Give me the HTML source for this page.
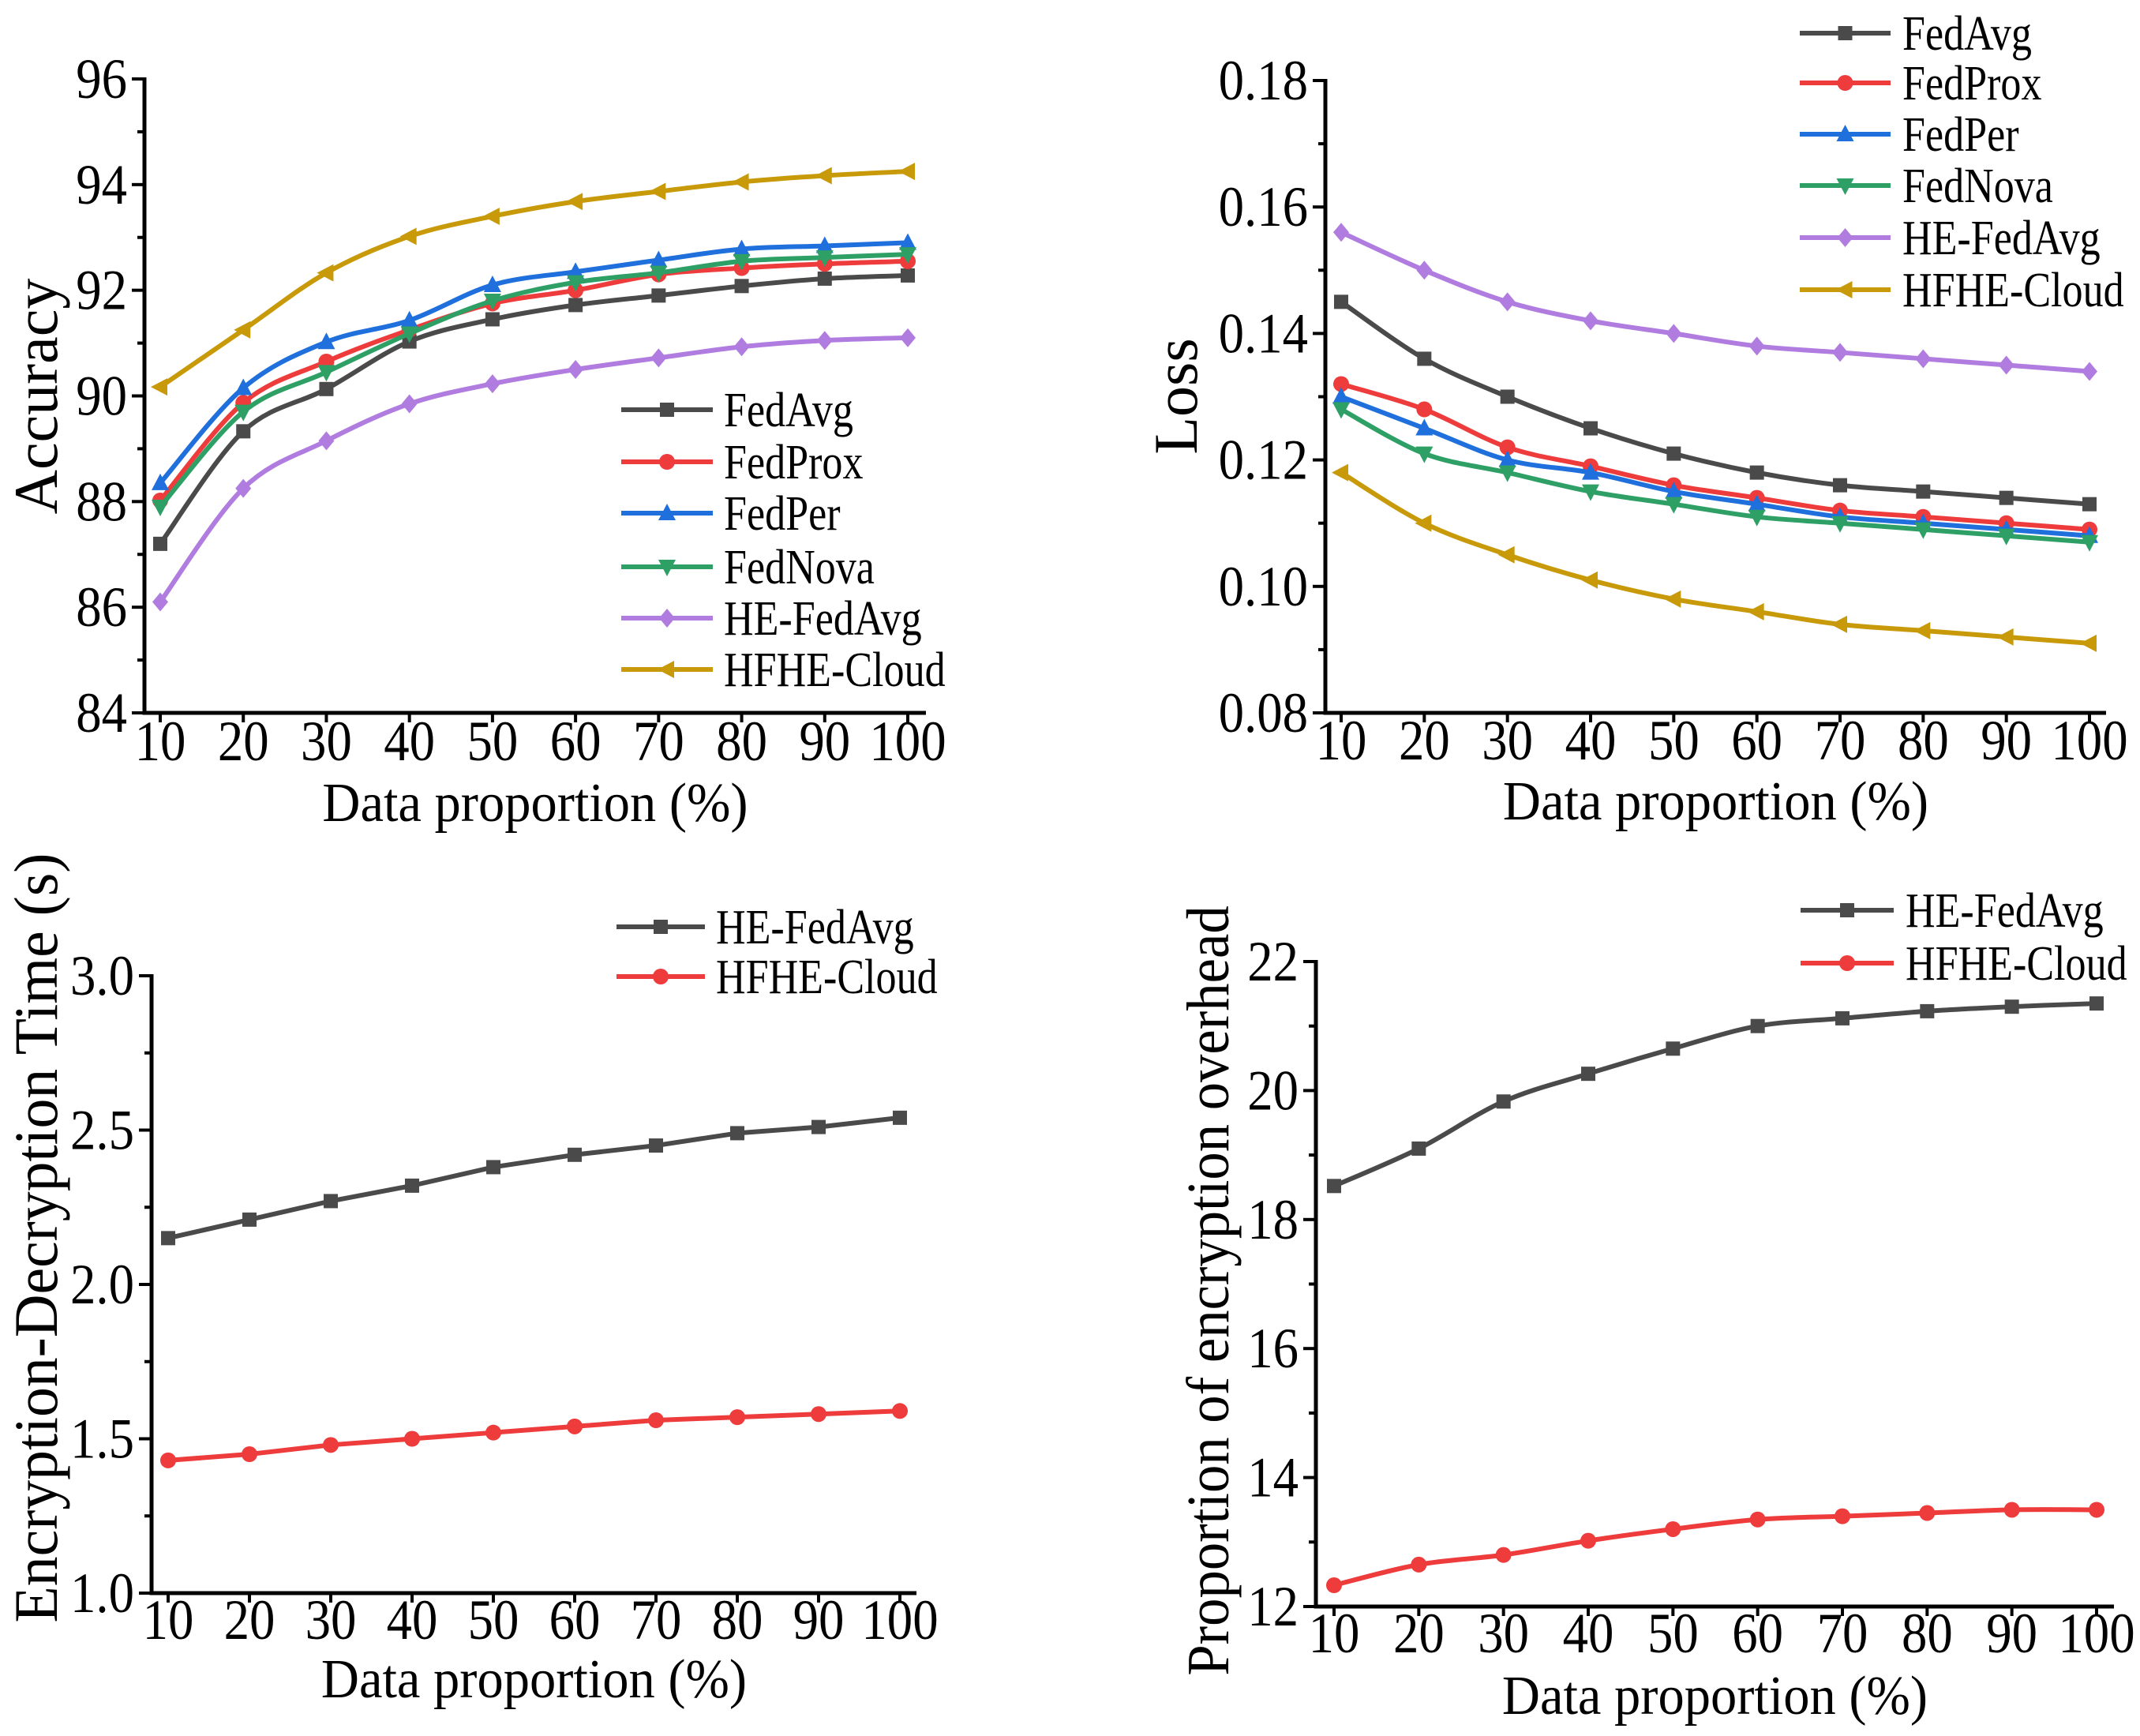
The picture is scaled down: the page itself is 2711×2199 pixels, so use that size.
<!DOCTYPE html>
<html><head><meta charset="utf-8"><style>
html,body{margin:0;padding:0;background:#fff;}
svg{display:block;font-family:"Liberation Serif","Times New Roman",serif;}
</style></head><body>
<svg id="fig" width="2711" height="2199" viewBox="0 0 2711 2199" xmlns="http://www.w3.org/2000/svg"></svg>
<script>
const xCats=[10,20,30,40,50,60,70,80,90,100];
// Chart A: accuracy
const accNames=["FedAvg","FedProx","FedPer","FedNova","HE-FedAvg","HFHE-Cloud"];
const accFedAvg=[87.2,89.33,90.13,91.03,91.45,91.72,91.9,92.08,92.22,92.28];
const accFedProx=[88.02,89.87,90.65,91.25,91.75,92.0,92.3,92.42,92.5,92.55];
const accFedPer=[88.35,90.15,91.02,91.43,92.1,92.35,92.57,92.78,92.84,92.9];
const accFedNova=[87.9,89.7,90.45,91.18,91.8,92.15,92.33,92.55,92.62,92.68];
const accHE=[86.1,88.25,89.15,89.85,90.23,90.5,90.72,90.93,91.05,91.1];
const accHFHE=[90.17,91.25,92.33,93.02,93.4,93.68,93.87,94.05,94.17,94.25];
const accTicks=["84","86","88","90","92","94","96"];
// Chart B: loss
const lossFedAvg=[.145,.136,.130,.125,.121,.118,.116,.115,.114,.113];
const lossFedProx=[.132,.128,.122,.119,.116,.114,.112,.111,.110,.109];
const lossFedPer=[.130,.125,.120,.118,.115,.113,.111,.110,.109,.108];
const lossFedNova=[.128,.121,.118,.115,.113,.111,.110,.109,.108,.107];
const lossHE=[.156,.150,.145,.142,.140,.138,.137,.136,.135,.134];
const lossHFHE=[.118,.110,.105,.101,.098,.096,.094,.093,.092,.091];
const lossTicks=["0.08","0.10","0.12","0.14","0.16","0.18"];
// Chart C: time
const timeHE=[2.15,2.21,2.27,2.32,2.38,2.42,2.45,2.49,2.51,2.54];
const timeHFHE=[1.43,1.45,1.48,1.50,1.52,1.54,1.56,1.57,1.58,1.59];
const timeTicks=["1.0","1.5","2.0","2.5","3.0"];
// Chart D: overhead
const ovHE=[18.52,19.1,19.83,20.26,20.65,21.0,21.12,21.23,21.3,21.35];
const ovHFHE=[12.33,12.65,12.8,13.02,13.2,13.35,13.4,13.45,13.5,13.5];
const ovTicks=["12","14","16","18","20","22"];

const NS="http://www.w3.org/2000/svg";
const svg=document.getElementById('fig');
function mk(tag,attrs,parent){const e=document.createElementNS(NS,tag);for(const k in attrs)e.setAttribute(k,attrs[k]);(parent||svg).appendChild(e);return e;}
const COL={gray:"#4a4a4a",red:"#ee3b3b",blue:"#1f6fdc",green:"#2ea066",purple:"#b07ce0",gold:"#c89a0a"};

function marker(g,shape,x,y,c){
  const s=9;let e;
  if(shape==="square")e=mk('rect',{x:x-s,y:y-s,width:2*s,height:2*s,fill:c},g);
  else if(shape==="circle")e=mk('circle',{cx:x,cy:y,r:s+1,fill:c},g);
  else {let p;
    if(shape==="up")p=[[x,y-s-3],[x+s+2,y+s],[x-s-2,y+s]];
    else if(shape==="down")p=[[x,y+s+3],[x+s+2,y-s],[x-s-2,y-s]];
    else if(shape==="diamond")p=[[x,y-s-3],[x+s+1,y],[x,y+s+3],[x-s-1,y]];
    else p=[[x-s-3,y],[x+s,y-s-2],[x+s,y+s+2]];
    e=mk('polygon',{points:p.map(q=>q.join(',')).join(' '),fill:c},g);}
  
  
}
function smoothPath(pts,smooth){
  let d="M"+pts[0][0]+","+pts[0][1];
  for(let i=0;i<pts.length-1;i++){
    if(!smooth){d+=" L"+pts[i+1][0]+","+pts[i+1][1];continue;}
    const p0=pts[Math.max(0,i-1)],p1=pts[i],p2=pts[i+1],p3=pts[Math.min(pts.length-1,i+2)];
    const c1=[p1[0]+(p2[0]-p0[0])/6,p1[1]+(p2[1]-p0[1])/6];
    const c2=[p2[0]-(p3[0]-p1[0])/6,p2[1]-(p3[1]-p1[1])/6];
    d+=` C${c1[0]},${c1[1]} ${c2[0]},${c2[1]} ${p2[0]},${p2[1]}`;
  }
  return d;
}
function text(g,str,x,y,size,anchor,name,rot,sx){
  const t=mk('text',{x:0,y:0,'font-size':size,'text-anchor':anchor||'start',fill:'#000',
    transform:`translate(${x},${y})`+(rot?` rotate(${rot})`:'')+` scale(${sx||1},1)`},g);
  t.textContent=str;
  
  
  return t;
}
function chart(cfg){
  const g=mk('g',{});
  
  
  const X=v=>cfg.x10+(v-10)/90*(cfg.x100-cfg.x10);
  const Y=v=>cfg.yB+(v-cfg.ymin)/(cfg.ymax-cfg.ymin)*(cfg.yT-cfg.yB);
  const ticksG=mk('g',{stroke:'#000','stroke-width':4},g);
  
  
  const n=cfg.ticks.length;
  for(let i=0;i<n;i++){
    const v=parseFloat(cfg.ticks[i]);const y=Y(v);
    mk('line',{x1:cfg.ax-16,y1:y,x2:cfg.ax,y2:y},ticksG);
    text(g,cfg.ticks[i],cfg.ax-22,y+24,72,'end','y-tick-label',0,0.9);
    if(i<n-1){const ym=Y((v+parseFloat(cfg.ticks[i+1]))/2);mk('line',{x1:cfg.ax-9,y1:ym,x2:cfg.ax,y2:ym},ticksG);}
  }
  xCats.forEach(v=>{
    mk('line',{x1:X(v),y1:cfg.yB,x2:X(v),y2:cfg.yB+12},ticksG);
    text(g,String(v),X(v),cfg.xLblY,72,'middle','x-tick-label',0,0.9);
  });
  const ax=mk('path',{d:`M${cfg.ax},${cfg.yT-2} L${cfg.ax},${cfg.yB} L${cfg.axR},${cfg.yB}`,fill:'none',stroke:'#000','stroke-width':5},g);
  
  
  text(g,"Data proportion (%)",(cfg.ax+cfg.axR)/2,cfg.xTitleY,70,'middle','x-axis-title',0,0.95);
  text(g,cfg.ytitle,cfg.ytX,cfg.ytY,cfg.ytSize,'middle','y-axis-title',-90,cfg.ytSx);
  cfg.series.forEach((s,si)=>{
    const sg=mk('g',{},g);
    
    
    const pts=s.data.map((v,i)=>[X(xCats[i]),Y(v)]);
    const p=mk('path',{d:smoothPath(pts,cfg.smooth),fill:'none',stroke:s.c,'stroke-width':6,'stroke-linejoin':'round'},sg);
    
    
    pts.forEach(q=>marker(sg,s.m,q[0],q[1],s.c));
    const lg=mk('g',{},g);
    
    
    const ly=cfg.legY[si];
    mk('line',{x1:cfg.legX1,y1:ly,x2:cfg.legX2,y2:ly,stroke:s.c,'stroke-width':6},lg);
    marker(lg,s.m,(cfg.legX1+cfg.legX2)/2,ly,s.c);
    text(lg,s.label,cfg.legTX,ly+21,62,'start','legend-label',0,0.84);
  });
}
const six=(d)=>[
 {label:"FedAvg",data:d[0],c:COL.gray,m:"square"},
 {label:"FedProx",data:d[1],c:COL.red,m:"circle"},
 {label:"FedPer",data:d[2],c:COL.blue,m:"up"},
 {label:"FedNova",data:d[3],c:COL.green,m:"down"},
 {label:"HE-FedAvg",data:d[4],c:COL.purple,m:"diamond"},
 {label:"HFHE-Cloud",data:d[5],c:COL.gold,m:"left"}];
chart({name:'accuracy-chart',x10:203,x100:1150,ax:183,axR:1173,yT:100,yB:903,ymin:84,ymax:96,ticks:accTicks,
 xLblY:963,xTitleY:1040,ytitle:"Accuracy",ytX:72,ytY:502,ytSize:78,ytSx:1,smooth:true,
 series:six([accFedAvg,accFedProx,accFedPer,accFedNova,accHE,accHFHE]),
 legX1:787,legX2:903,legTX:917,legY:[519,585,650,718,783,848]});
chart({name:'loss-chart',x10:1699,x100:2647,ax:1679,axR:2668,yT:102,yB:903,ymin:0.08,ymax:0.18,ticks:lossTicks,
 xLblY:962,xTitleY:1038,ytitle:"Loss",ytX:1516,ytY:502,ytSize:78,ytSx:1,smooth:true,
 series:six([lossFedAvg,lossFedProx,lossFedPer,lossFedNova,lossHE,lossHFHE]),
 legX1:2280,legX2:2395,legTX:2410,legY:[42,105,170,235,301,367]});
chart({name:'time-chart',x10:213,x100:1140,ax:192,axR:1161,yT:1236,yB:2018,ymin:1.0,ymax:3.0,ticks:timeTicks,
 xLblY:2076,xTitleY:2150,ytitle:"Encryption-Decryption Time (s)",ytX:72,ytY:1568,ytSize:78,ytSx:0.97,smooth:false,
 series:[{label:"HE-FedAvg",data:timeHE,c:COL.gray,m:"square"},{label:"HFHE-Cloud",data:timeHFHE,c:COL.red,m:"circle"}],
 legX1:781,legX2:893,legTX:907,legY:[1174,1237]});
chart({name:'overhead-chart',x10:1690,x100:2656,ax:1667,axR:2678,yT:1218,yB:2035,ymin:12,ymax:22,ticks:ovTicks,
 xLblY:2093,xTitleY:2171,ytitle:"Proportion of encryption overhead",ytX:1556,ytY:1635,ytSize:76,ytSx:0.93,smooth:true,
 series:[{label:"HE-FedAvg",data:ovHE,c:COL.gray,m:"square"},{label:"HFHE-Cloud",data:ovHFHE,c:COL.red,m:"circle"}],
 legX1:2281,legX2:2399,legTX:2414,legY:[1153,1220]});
</script>
</body></html>
